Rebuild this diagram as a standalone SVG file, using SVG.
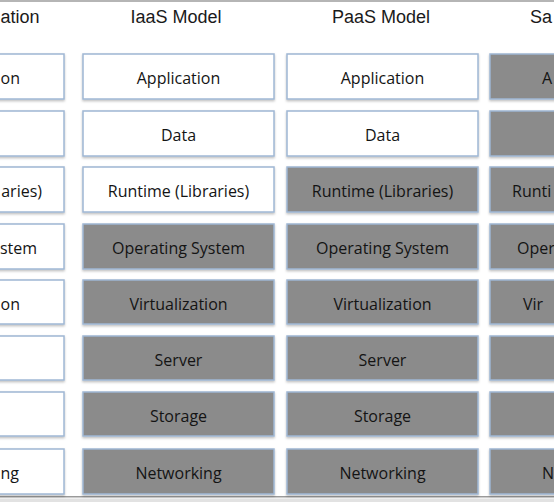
<svg xmlns="http://www.w3.org/2000/svg" width="554" height="502" viewBox="0 0 554 502">
<style>
.hdr{font-family:"Liberation Sans",Arial,sans-serif;font-size:18px;fill:#1a1a1a}
.box{stroke:#9fb7d4;stroke-width:1.5}
.w{fill:#ffffff}
.g{fill:#8b8b8b}
.t{font-family:"Open Sans","Noto Sans",sans-serif;font-size:16px;fill:#141414}
</style>
<defs>
<filter id="sh" x="-5%" y="-10%" width="110%" height="130%">
<feDropShadow dx="0" dy="1.5" stdDeviation="1.2" flood-color="#000" flood-opacity="0.25"/>
</filter>
</defs>
<rect x="0" y="0" width="554" height="502" fill="#ffffff"/>
<rect x="0" y="0" width="554" height="2" fill="#b5b5b5"/>
<rect x="0" y="496" width="554" height="1.5" fill="#9a9a9a"/>
<rect x="0" y="498.5" width="554" height="3.5" fill="#e2e2e2"/>

<g id="headers">
<text class="hdr" x="0.5" y="23">ation</text>
<text class="hdr" x="176" y="23" text-anchor="middle">IaaS Model</text>
<text class="hdr" x="381" y="23" text-anchor="middle">PaaS Model</text>
<text class="hdr" x="530" y="23">Sa</text>
</g>

<g id="col1" filter="url(#sh)">
<rect class="box w" x="-130" y="54" width="194" height="45"/>
<rect class="box w" x="-130" y="111" width="194" height="45"/>
<rect class="box w" x="-130" y="167" width="194" height="45"/>
<rect class="box w" x="-130" y="224" width="194" height="45"/>
<rect class="box w" x="-130" y="280" width="194" height="44"/>
<rect class="box w" x="-130" y="336" width="194" height="44"/>
<rect class="box w" x="-130" y="392" width="194" height="44"/>
<rect class="box w" x="-130" y="449" width="194" height="45"/>
</g>
<g id="col1-text">
<text class="t" x="0.5" y="84">on</text>
<text class="t" x="42" y="197" text-anchor="end">aries)</text>
<text class="t" x="37" y="254" text-anchor="end">stem</text>
<text class="t" x="20" y="310" text-anchor="end">on</text>
<text class="t" x="0.5" y="479">ng</text>
</g>

<g id="iaas">
<g id="iaas-app" filter="url(#sh)"><rect class="box w" x="83" y="54" width="191" height="45"/></g>
<text class="t" x="178.5" y="84" text-anchor="middle">Application</text>
<g id="iaas-data" filter="url(#sh)"><rect class="box w" x="83" y="111" width="191" height="45"/></g>
<text class="t" x="178.5" y="141" text-anchor="middle">Data</text>
<g id="iaas-runtime" filter="url(#sh)"><rect class="box w" x="83" y="167" width="191" height="45"/></g>
<text class="t" x="178.5" y="197" text-anchor="middle">Runtime (Libraries)</text>
<g id="iaas-os" filter="url(#sh)"><rect class="box g" x="83" y="224" width="191" height="45"/></g>
<text class="t" x="178.5" y="254" text-anchor="middle">Operating System</text>
<g id="iaas-virt" filter="url(#sh)"><rect class="box g" x="83" y="280" width="191" height="44"/></g>
<text class="t" x="178.5" y="310" text-anchor="middle">Virtualization</text>
<g id="iaas-server" filter="url(#sh)"><rect class="box g" x="83" y="336" width="191" height="44"/></g>
<text class="t" x="178.5" y="366" text-anchor="middle">Server</text>
<g id="iaas-storage" filter="url(#sh)"><rect class="box g" x="83" y="392" width="191" height="44"/></g>
<text class="t" x="178.5" y="422" text-anchor="middle">Storage</text>
<g id="iaas-net" filter="url(#sh)"><rect class="box g" x="83" y="449" width="191" height="45"/></g>
<text class="t" x="178.5" y="479" text-anchor="middle">Networking</text>
</g>

<g id="paas">
<g id="paas-app" filter="url(#sh)"><rect class="box w" x="287" y="54" width="191" height="45"/></g>
<text class="t" x="382.5" y="84" text-anchor="middle">Application</text>
<g id="paas-data" filter="url(#sh)"><rect class="box w" x="287" y="111" width="191" height="45"/></g>
<text class="t" x="382.5" y="141" text-anchor="middle">Data</text>
<g id="paas-runtime" filter="url(#sh)"><rect class="box g" x="287" y="167" width="191" height="45"/></g>
<text class="t" x="382.5" y="197" text-anchor="middle">Runtime (Libraries)</text>
<g id="paas-os" filter="url(#sh)"><rect class="box g" x="287" y="224" width="191" height="45"/></g>
<text class="t" x="382.5" y="254" text-anchor="middle">Operating System</text>
<g id="paas-virt" filter="url(#sh)"><rect class="box g" x="287" y="280" width="191" height="44"/></g>
<text class="t" x="382.5" y="310" text-anchor="middle">Virtualization</text>
<g id="paas-server" filter="url(#sh)"><rect class="box g" x="287" y="336" width="191" height="44"/></g>
<text class="t" x="382.5" y="366" text-anchor="middle">Server</text>
<g id="paas-storage" filter="url(#sh)"><rect class="box g" x="287" y="392" width="191" height="44"/></g>
<text class="t" x="382.5" y="422" text-anchor="middle">Storage</text>
<g id="paas-net" filter="url(#sh)"><rect class="box g" x="287" y="449" width="191" height="45"/></g>
<text class="t" x="382.5" y="479" text-anchor="middle">Networking</text>
</g>

<g id="col4" filter="url(#sh)">
<rect class="box g" x="490" y="54" width="194" height="45"/>
<rect class="box g" x="490" y="111" width="194" height="45"/>
<rect class="box g" x="490" y="167" width="194" height="45"/>
<rect class="box g" x="490" y="224" width="194" height="45"/>
<rect class="box g" x="490" y="280" width="194" height="44"/>
<rect class="box g" x="490" y="336" width="194" height="44"/>
<rect class="box g" x="490" y="392" width="194" height="44"/>
<rect class="box g" x="490" y="449" width="194" height="45"/>
</g>
<g id="col4-text">
<text class="t" x="542" y="84">A</text>
<text class="t" x="512" y="197">Runti</text>
<text class="t" x="517" y="254">Oper</text>
<text class="t" x="523" y="310">Vir</text>
<text class="t" x="542" y="479">N</text>
</g>

<g id="connectors"></g>
</svg>
